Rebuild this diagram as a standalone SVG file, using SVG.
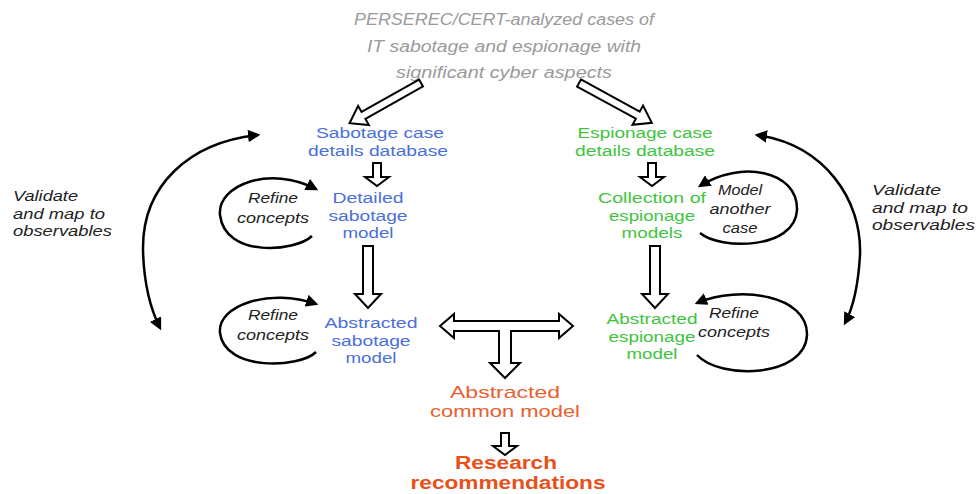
<svg xmlns="http://www.w3.org/2000/svg" width="979" height="494" viewBox="0 0 979 494">
<style>
text{font-family:"Liberation Sans","DejaVu Sans",Arial,sans-serif}
.c{text-anchor:middle}
.title{font-size:16px;font-style:italic;fill:#9a9a9a}
.blue{font-size:15.5px;fill:#4a6fdc}
.green{font-size:15.5px;fill:#3ec43e}
.orange{font-size:17px;fill:#e8602f}
.bold{font-size:17.5px;font-weight:bold;fill:#e8501a}
.lbl{font-size:14.5px;font-style:italic;fill:#222}
.side{font-size:14px;font-style:italic;fill:#222}
.blk{fill:#fff;stroke:#000;stroke-width:2;stroke-linejoin:miter}
.crv{fill:none;stroke:#000;stroke-width:2.5}
</style>
<defs>
<marker id="ah" viewBox="0 0 10 10" refX="8" refY="5" markerWidth="5" markerHeight="5" orient="auto-start-reverse" markerUnits="strokeWidth">
<path d="M0,0 L10,5 L0,10 z" fill="#000"/>
</marker>
</defs>
<rect width="979" height="494" fill="#fff"/>

<g id="source">
<text class="c title" x="504" y="25" textLength="300" lengthAdjust="spacingAndGlyphs">PERSEREC/CERT-analyzed cases of</text>
<text class="c title" x="504" y="52" textLength="274" lengthAdjust="spacingAndGlyphs">IT sabotage and espionage with</text>
<text class="c title" x="504" y="78" textLength="216" lengthAdjust="spacingAndGlyphs">significant cyber aspects</text>
</g>

<g id="sabotage-db">
<text class="c blue" x="380" y="138" textLength="128" lengthAdjust="spacingAndGlyphs">Sabotage case</text>
<text class="c blue" x="378" y="155.5" textLength="140" lengthAdjust="spacingAndGlyphs">details database</text>
</g>
<g id="espionage-db">
<text class="c green" x="645" y="138" textLength="135" lengthAdjust="spacingAndGlyphs">Espionage case</text>
<text class="c green" x="645" y="155.5" textLength="140" lengthAdjust="spacingAndGlyphs">details database</text>
</g>
<g id="detailed-sabotage">
<text class="c blue" x="368" y="203" textLength="71" lengthAdjust="spacingAndGlyphs">Detailed</text>
<text class="c blue" x="368" y="220.5" textLength="79" lengthAdjust="spacingAndGlyphs">sabotage</text>
<text class="c blue" x="368" y="238" textLength="51" lengthAdjust="spacingAndGlyphs">model</text>
</g>
<g id="collection-espionage">
<text class="c green" x="652" y="203" textLength="108" lengthAdjust="spacingAndGlyphs">Collection of</text>
<text class="c green" x="652" y="220.5" textLength="86" lengthAdjust="spacingAndGlyphs">espionage</text>
<text class="c green" x="652" y="238" textLength="61" lengthAdjust="spacingAndGlyphs">models</text>
</g>
<g id="abstracted-sabotage">
<text class="c blue" x="371" y="328" textLength="93" lengthAdjust="spacingAndGlyphs">Abstracted</text>
<text class="c blue" x="371" y="345.5" textLength="79" lengthAdjust="spacingAndGlyphs">sabotage</text>
<text class="c blue" x="371" y="363" textLength="51" lengthAdjust="spacingAndGlyphs">model</text>
</g>
<g id="abstracted-espionage">
<text class="c green" x="652" y="324" textLength="91" lengthAdjust="spacingAndGlyphs">Abstracted</text>
<text class="c green" x="652" y="341.5" textLength="87" lengthAdjust="spacingAndGlyphs">espionage</text>
<text class="c green" x="652" y="359" textLength="51" lengthAdjust="spacingAndGlyphs">model</text>
</g>
<g id="common-model">
<text class="c orange" x="505" y="398" textLength="110" lengthAdjust="spacingAndGlyphs">Abstracted</text>
<text class="c orange" x="505" y="417" textLength="150" lengthAdjust="spacingAndGlyphs">common model</text>
</g>
<g id="research">
<text class="c bold" x="506" y="469" textLength="102" lengthAdjust="spacingAndGlyphs">Research</text>
<text class="c bold" x="508" y="488.5" textLength="195" lengthAdjust="spacingAndGlyphs">recommendations</text>
</g>

<g id="labels">
<text class="c lbl" x="273" y="203" textLength="50" lengthAdjust="spacingAndGlyphs">Refine</text>
<text class="c lbl" x="273" y="223" textLength="72" lengthAdjust="spacingAndGlyphs">concepts</text>
<text class="c lbl" x="273" y="320" textLength="50" lengthAdjust="spacingAndGlyphs">Refine</text>
<text class="c lbl" x="273" y="340" textLength="72" lengthAdjust="spacingAndGlyphs">concepts</text>
<text class="c lbl" x="740" y="195" textLength="44" lengthAdjust="spacingAndGlyphs">Model</text>
<text class="c lbl" x="740" y="214" textLength="61" lengthAdjust="spacingAndGlyphs">another</text>
<text class="c lbl" x="740" y="233" textLength="35" lengthAdjust="spacingAndGlyphs">case</text>
<text class="c lbl" x="734" y="318" textLength="50" lengthAdjust="spacingAndGlyphs">Refine</text>
<text class="c lbl" x="734" y="337" textLength="72" lengthAdjust="spacingAndGlyphs">concepts</text>
<text class="side" x="13" y="201" textLength="65" lengthAdjust="spacingAndGlyphs">Validate</text>
<text class="side" x="13" y="218.5" textLength="92" lengthAdjust="spacingAndGlyphs">and map to</text>
<text class="side" x="13" y="236" textLength="99" lengthAdjust="spacingAndGlyphs">observables</text>
<text class="side" x="872" y="195" textLength="69" lengthAdjust="spacingAndGlyphs">Validate</text>
<text class="side" x="872" y="212.5" textLength="96" lengthAdjust="spacingAndGlyphs">and map to</text>
<text class="side" x="872" y="230" textLength="103" lengthAdjust="spacingAndGlyphs">observables</text>
</g>

<g id="connectors">
<polygon class="blk" transform="translate(421,83) rotate(150.6)" points="0,-4 66,-4 66,-11 82,0 66,11 66,4 0,4"/>
<polygon class="blk" transform="translate(579,83) rotate(28.7)" points="0,-4 67,-4 67,-11 83,0 67,11 67,4 0,4"/>
<polygon class="blk" points="373,163 381,163 381,177 389,177 377,186 365,177 373,177"/>
<polygon class="blk" points="648,163 656,163 656,177 664,177 652,186 640,177 648,177"/>
<polygon class="blk" points="363,246 373,246 373,294 381,294 368,308 355,294 363,294"/>
<polygon class="blk" points="650,246 660,246 660,294 668,294 655,308 642,294 650,294"/>
<polygon class="blk" points="440,326 454,314 454,321 559,321 559,314 573,326 559,338 559,331 511,331 511,363 520,363 505,378 490,363 499,363 499,331 454,331 454,338"/>
<polygon class="blk" points="501,433 509,433 509,446 517,446 505,455 493,446 501,446"/>

<path class="crv" marker-end="url(#ah)" d="M312,236 C295,252 225,258 220,215 C217,185 270,165 316,189"/>
<path class="crv" marker-end="url(#ah)" d="M316,352 C300,368 225,372 220,333 C217,305 270,288 316,304"/>
<path class="crv" marker-end="url(#ah)" d="M700,233 C720,250 795,250 797,210 C798,170 740,160 700,186"/>
<path class="crv" marker-end="url(#ah)" d="M697,355 C720,380 805,378 807,335 C808,295 740,285 697,303"/>
<path class="crv" marker-start="url(#ah)" marker-end="url(#ah)" d="M258,135 C190,142 142,185 143,250 C144,290 152,312 160,328"/>
<path class="crv" marker-start="url(#ah)" marker-end="url(#ah)" d="M757,135 C825,145 862,200 860,255 C858,290 852,310 845,323"/>
</g>
</svg>
